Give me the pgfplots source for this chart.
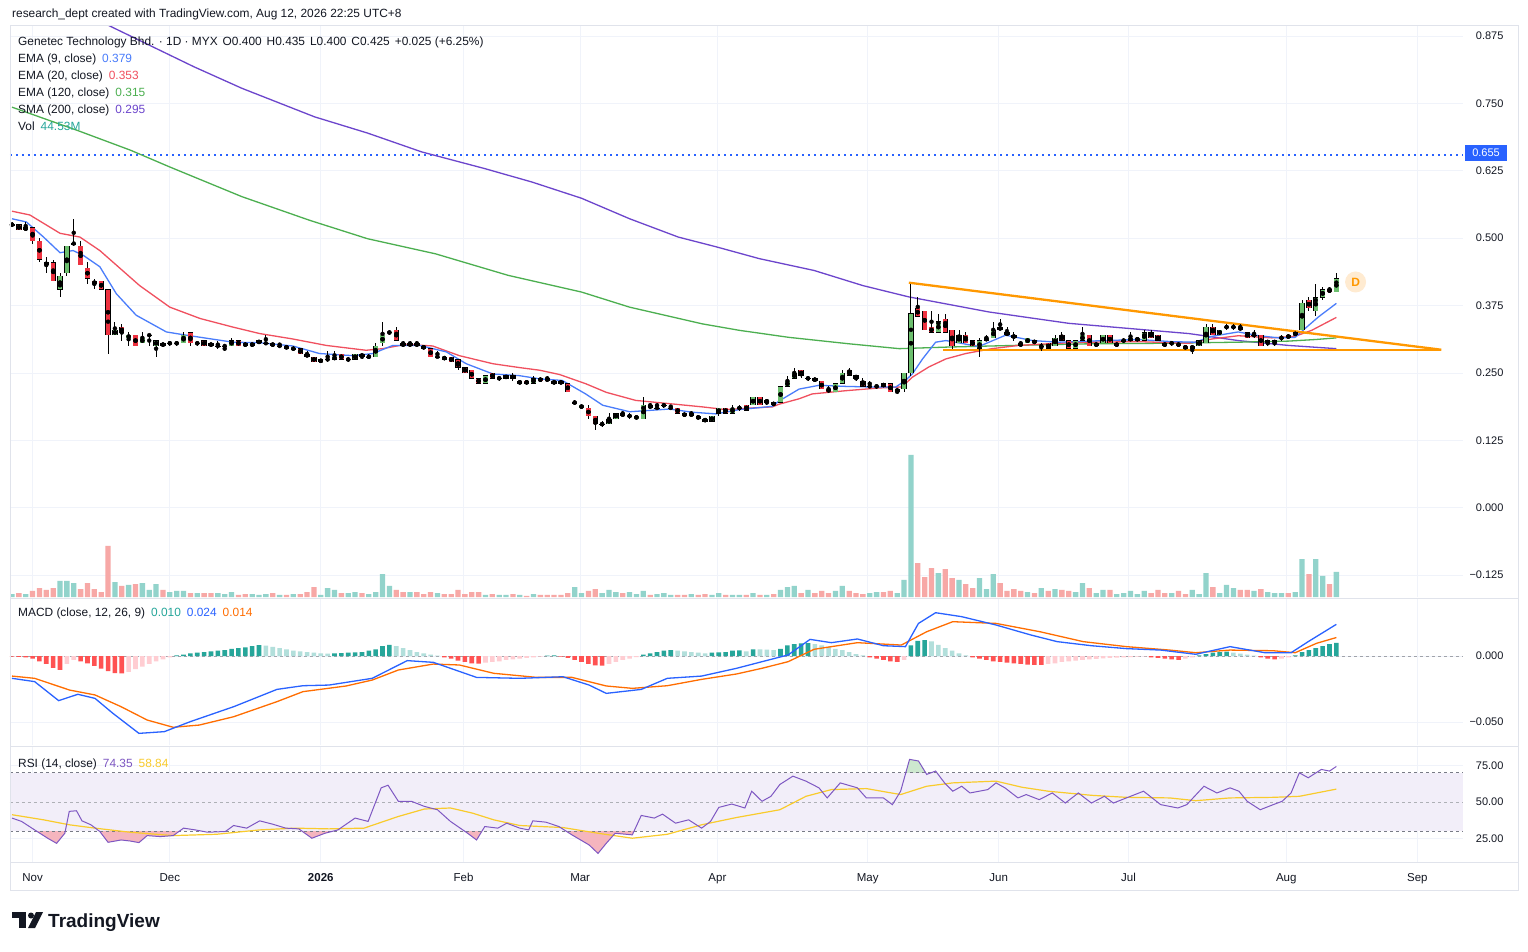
\documentclass[border=0pt]{standalone}
\usepackage{fontspec}
\setmainfont{Liberation Sans}
\usepackage{pgfplots}
\pgfplotsset{compat=1.18}
\usepackage{pgfplotstable}

\definecolor{tvtext}{HTML}{131722}
\definecolor{gridc}{HTML}{F0F3FA}
\definecolor{framec}{HTML}{E0E3EB}
\definecolor{cup}{HTML}{6CBF6E}
\definecolor{cdn}{HTML}{EE3240}
\definecolor{vup}{HTML}{92D3CB}
\definecolor{vdn}{HTML}{F7A8A6}
\definecolor{ema9}{HTML}{4A7DFB}
\definecolor{ema20}{HTML}{F0505F}
\definecolor{ema120}{HTML}{4CAF50}
\definecolor{sma200}{HTML}{6C45CC}
\definecolor{hblue}{HTML}{2962FF}
\definecolor{trend}{HTML}{FF9800}
\definecolor{dlab}{HTML}{FFEBD1}
\definecolor{macdb}{HTML}{2962FF}
\definecolor{macdo}{HTML}{FF6D00}
\definecolor{hA}{HTML}{26A69A}
\definecolor{hB}{HTML}{B2DFDB}
\definecolor{hC}{HTML}{FFCDD2}
\definecolor{hD}{HTML}{FF5252}
\definecolor{rsil}{HTML}{7E57C2}
\definecolor{rsim}{HTML}{F9CB2C}
\definecolor{rsibg}{HTML}{F2EEF9}
\definecolor{rsiob}{HTML}{F5B5BE}
\definecolor{rsiog}{HTML}{CDE8CF}
\definecolor{dashc}{HTML}{787B86}
\definecolor{volt}{HTML}{26A69A}

\pgfplotstableread{
i o h l c v
0 0.525 0.530 0.520 0.525 5.3
1 0.525 0.525 0.515 0.515 7.1
2 0.515 0.530 0.515 0.520 5.3
3 0.520 0.520 0.490 0.495 10.7
4 0.495 0.500 0.455 0.460 16.0
5 0.455 0.465 0.435 0.450 12.5
6 0.455 0.460 0.420 0.420 16.0
7 0.405 0.435 0.390 0.430 28.5
8 0.435 0.485 0.430 0.485 28.5
9 0.490 0.535 0.485 0.490 24.9
10 0.485 0.495 0.450 0.450 14.2
11 0.445 0.455 0.415 0.425 24.9
12 0.420 0.425 0.405 0.415 14.2
13 0.420 0.420 0.405 0.405 8.9
14 0.405 0.405 0.285 0.320 90.8
15 0.320 0.345 0.320 0.330 26.7
16 0.335 0.340 0.310 0.325 19.6
17 0.315 0.325 0.300 0.320 21.4
18 0.320 0.320 0.300 0.300 23.1
19 0.305 0.325 0.305 0.315 24.9
20 0.320 0.320 0.300 0.320 12.5
21 0.300 0.310 0.280 0.310 23.1
22 0.305 0.305 0.300 0.300 12.5
23 0.305 0.310 0.300 0.305 8.9
24 0.305 0.310 0.300 0.305 10.7
25 0.305 0.325 0.305 0.320 10.7
26 0.325 0.325 0.300 0.305 7.1
27 0.305 0.310 0.300 0.305 7.1
28 0.310 0.310 0.300 0.300 7.1
29 0.305 0.305 0.300 0.300 7.1
30 0.300 0.310 0.295 0.300 7.1
31 0.300 0.300 0.290 0.300 5.3
32 0.300 0.315 0.300 0.310 8.9
33 0.310 0.310 0.300 0.300 3.6
34 0.305 0.305 0.300 0.300 5.3
35 0.300 0.305 0.300 0.305 5.3
36 0.305 0.310 0.305 0.310 3.6
37 0.305 0.320 0.305 0.305 5.3
38 0.305 0.305 0.300 0.300 7.1
39 0.300 0.305 0.300 0.300 3.6
40 0.300 0.300 0.295 0.295 3.6
41 0.295 0.300 0.290 0.295 5.3
42 0.295 0.295 0.285 0.285 5.3
43 0.285 0.290 0.280 0.280 8.9
44 0.280 0.280 0.270 0.270 17.8
45 0.270 0.275 0.270 0.275 3.6
46 0.275 0.290 0.270 0.275 16.0
47 0.275 0.290 0.275 0.280 12.5
48 0.285 0.285 0.275 0.275 7.1
49 0.275 0.280 0.270 0.275 7.1
50 0.275 0.285 0.275 0.285 8.9
51 0.285 0.285 0.275 0.280 7.1
52 0.280 0.285 0.275 0.280 5.3
53 0.280 0.305 0.280 0.300 8.9
54 0.305 0.345 0.300 0.320 40.9
55 0.325 0.330 0.320 0.325 19.6
56 0.330 0.335 0.310 0.310 12.5
57 0.305 0.310 0.300 0.300 8.9
58 0.300 0.310 0.300 0.305 8.9
59 0.305 0.310 0.300 0.300 8.9
60 0.300 0.300 0.295 0.295 5.3
61 0.295 0.295 0.280 0.280 8.9
62 0.280 0.290 0.280 0.280 7.1
63 0.280 0.280 0.275 0.275 5.3
64 0.280 0.280 0.270 0.270 5.3
65 0.275 0.275 0.255 0.260 12.5
66 0.260 0.260 0.250 0.250 5.3
67 0.255 0.255 0.240 0.240 8.9
68 0.240 0.240 0.230 0.230 8.9
69 0.230 0.245 0.230 0.245 3.6
70 0.250 0.250 0.240 0.240 5.3
71 0.240 0.245 0.235 0.240 3.6
72 0.240 0.245 0.240 0.245 3.6
73 0.245 0.250 0.235 0.240 5.3
74 0.230 0.235 0.230 0.235 3.6
75 0.235 0.235 0.230 0.230 1.8
76 0.230 0.245 0.230 0.240 5.3
77 0.240 0.240 0.235 0.235 3.6
78 0.240 0.245 0.235 0.235 3.6
79 0.235 0.235 0.230 0.230 3.6
80 0.235 0.235 0.230 0.230 3.6
81 0.230 0.230 0.215 0.215 7.1
82 0.195 0.200 0.190 0.195 17.8
83 0.185 0.190 0.185 0.190 7.1
84 0.185 0.190 0.165 0.170 10.7
85 0.170 0.170 0.145 0.155 14.2
86 0.155 0.160 0.150 0.155 7.1
87 0.155 0.175 0.155 0.165 12.5
88 0.165 0.175 0.165 0.175 8.9
89 0.175 0.180 0.170 0.170 7.1
90 0.170 0.175 0.165 0.170 8.9
91 0.165 0.170 0.165 0.170 5.3
92 0.165 0.205 0.165 0.190 10.7
93 0.190 0.195 0.185 0.185 3.6
94 0.185 0.195 0.185 0.185 5.3
95 0.190 0.195 0.185 0.190 7.1
96 0.185 0.190 0.185 0.185 3.6
97 0.185 0.185 0.175 0.175 3.6
98 0.175 0.175 0.170 0.170 3.6
99 0.170 0.180 0.170 0.175 5.3
100 0.170 0.170 0.165 0.165 3.6
101 0.165 0.165 0.160 0.160 5.3
102 0.160 0.170 0.160 0.170 3.6
103 0.175 0.185 0.170 0.185 7.1
104 0.185 0.185 0.175 0.175 3.6
105 0.175 0.190 0.175 0.185 3.6
106 0.185 0.190 0.180 0.185 3.6
107 0.190 0.190 0.180 0.180 3.6
108 0.190 0.205 0.190 0.205 7.1
109 0.205 0.205 0.190 0.190 3.6
110 0.195 0.200 0.190 0.200 3.6
111 0.195 0.195 0.190 0.190 5.3
112 0.195 0.225 0.195 0.225 12.5
113 0.225 0.245 0.225 0.235 17.8
114 0.240 0.260 0.240 0.250 19.6
115 0.255 0.255 0.240 0.245 7.1
116 0.240 0.245 0.235 0.240 12.5
117 0.240 0.240 0.235 0.235 7.1
118 0.235 0.235 0.220 0.220 10.7
119 0.220 0.225 0.215 0.215 7.1
120 0.215 0.230 0.215 0.230 10.7
121 0.230 0.255 0.230 0.250 19.6
122 0.255 0.260 0.245 0.245 10.7
123 0.245 0.245 0.235 0.240 7.1
124 0.235 0.240 0.225 0.225 5.3
125 0.225 0.235 0.225 0.225 7.1
126 0.225 0.230 0.220 0.225 8.9
127 0.230 0.230 0.225 0.225 8.9
128 0.230 0.230 0.215 0.215 10.7
129 0.215 0.220 0.210 0.220 7.1
130 0.220 0.250 0.215 0.250 30.3
131 0.250 0.415 0.245 0.360 252.8
132 0.370 0.390 0.355 0.355 60.5
133 0.365 0.365 0.330 0.330 35.6
134 0.335 0.365 0.325 0.325 51.6
135 0.325 0.360 0.325 0.345 42.7
136 0.350 0.360 0.325 0.325 49.8
137 0.330 0.330 0.295 0.300 33.8
138 0.305 0.330 0.305 0.320 30.3
139 0.320 0.325 0.305 0.305 23.1
140 0.310 0.310 0.300 0.300 16.0
141 0.295 0.315 0.280 0.310 33.8
142 0.310 0.320 0.310 0.315 14.2
143 0.315 0.345 0.315 0.330 40.9
144 0.335 0.350 0.330 0.330 24.9
145 0.325 0.335 0.320 0.320 10.7
146 0.320 0.325 0.310 0.315 14.2
147 0.305 0.310 0.300 0.300 10.7
148 0.305 0.315 0.305 0.315 8.9
149 0.310 0.310 0.305 0.305 7.1
150 0.300 0.305 0.290 0.300 16.0
151 0.305 0.305 0.295 0.295 10.7
152 0.300 0.320 0.300 0.315 14.2
153 0.320 0.325 0.310 0.310 12.5
154 0.310 0.310 0.295 0.295 10.7
155 0.295 0.310 0.295 0.310 8.9
156 0.310 0.335 0.310 0.320 24.9
157 0.320 0.320 0.300 0.300 16.0
158 0.300 0.305 0.300 0.305 7.1
159 0.305 0.320 0.305 0.320 12.5
160 0.320 0.320 0.305 0.305 12.5
161 0.300 0.305 0.300 0.305 5.3
162 0.310 0.315 0.305 0.310 7.1
163 0.310 0.325 0.310 0.315 10.7
164 0.310 0.315 0.310 0.315 5.3
165 0.310 0.330 0.310 0.325 10.7
166 0.325 0.330 0.315 0.315 7.1
167 0.320 0.320 0.310 0.310 12.5
168 0.305 0.305 0.300 0.300 7.1
169 0.305 0.310 0.300 0.305 7.1
170 0.305 0.305 0.300 0.300 10.7
171 0.300 0.300 0.295 0.295 5.3
172 0.295 0.300 0.285 0.300 12.5
173 0.300 0.310 0.300 0.310 5.3
174 0.305 0.340 0.305 0.335 42.7
175 0.335 0.340 0.320 0.320 17.8
176 0.320 0.330 0.320 0.330 7.1
177 0.335 0.340 0.330 0.335 21.4
178 0.335 0.340 0.330 0.335 16.0
179 0.335 0.340 0.330 0.330 12.5
180 0.325 0.325 0.315 0.315 12.5
181 0.320 0.330 0.315 0.320 10.7
182 0.320 0.320 0.300 0.300 14.2
183 0.305 0.310 0.300 0.310 8.9
184 0.305 0.310 0.300 0.310 7.1
185 0.315 0.320 0.310 0.315 7.1
186 0.320 0.320 0.315 0.315 7.1
187 0.320 0.325 0.320 0.325 8.9
188 0.330 0.385 0.330 0.380 67.6
189 0.385 0.390 0.365 0.370 40.9
190 0.365 0.415 0.355 0.390 67.6
191 0.390 0.410 0.385 0.405 37.4
192 0.405 0.410 0.400 0.400 23.1
193 0.400 0.435 0.400 0.425 44.53
}\candles

\pgfplotstableread{
i p
0 0.536
2.1 0.530
4.6 0.502
7 0.473
8.9 0.477
10.4 0.468
12.8 0.447
15.2 0.397
18.1 0.357
22.5 0.326
25.4 0.320
32.2 0.307
36.1 0.306
40.9 0.300
44.8 0.286
49.7 0.282
52.6 0.286
55.5 0.301
59.4 0.301
63.3 0.289
66.2 0.267
70.1 0.248
73.9 0.245
76.9 0.239
80.2 0.236
83.6 0.211
86.1 0.190
90 0.178
92.4 0.180
95.8 0.183
99.2 0.177
102.6 0.174
106 0.182
110.8 0.188
111.8 0.198
114.7 0.220
117.6 0.227
121.5 0.225
124.9 0.224
128.8 0.224
130.2 0.236
131.2 0.248
132.7 0.276
134.6 0.307
136.1 0.310
140.9 0.299
144.8 0.320
148.7 0.310
152.5 0.307
156.9 0.309
164.2 0.312
169 0.308
172.4 0.307
174.9 0.318
178.7 0.326
181.7 0.319
184.6 0.315
187 0.316
188.4 0.332
190.4 0.354
193 0.379
}\emanine

\pgfplotstableread{
i p
0 0.550
2.6 0.543
7 0.509
9.9 0.502
12.8 0.477
18.6 0.412
23 0.372
27.4 0.351
32.2 0.335
36.1 0.323
40.9 0.313
45.8 0.301
51.6 0.292
54 0.295
57.4 0.303
61.3 0.300
65.2 0.282
70.1 0.267
73.9 0.260
76.9 0.255
79.8 0.247
83.6 0.230
86.6 0.214
90.9 0.199
95.8 0.193
100.6 0.187
104 0.182
107.9 0.185
110.8 0.187
111.8 0.192
114.7 0.202
116.6 0.211
121.5 0.217
126.3 0.222
129.7 0.224
131.2 0.242
133.6 0.261
136.1 0.276
139 0.286
142.8 0.295
146.7 0.301
152.5 0.305
156.9 0.307
164.2 0.308
171.5 0.305
174.9 0.313
178.7 0.319
183.6 0.315
187 0.318
189.4 0.329
193 0.353
}\ematwenty

\pgfplotstableread{
i p
0 0.743
9.5 0.700
17.3 0.663
23 0.632
33.5 0.577
43.4 0.533
51.8 0.499
61.7 0.471
72.3 0.431
83 0.400
90 0.372
100.6 0.341
106 0.329
113.2 0.316
122 0.304
129.3 0.295
136.5 0.298
146 0.301
156.9 0.304
168 0.305
178.7 0.307
186 0.309
190 0.312
193 0.315
}\emaonetwenty

\pgfplotstableread{
i p
0 0.985
5 0.955
10 0.922
14.5 0.892
26.5 0.818
33.5 0.778
44.1 0.725
51.8 0.695
59.7 0.660
68.9 0.629
75.8 0.604
83 0.574
90 0.536
97.1 0.502
102.6 0.484
108.9 0.462
116.9 0.440
124 0.412
130.7 0.391
142.4 0.363
154 0.342
171.5 0.323
178.7 0.310
186 0.301
193 0.295
}\smatwohundred

\pgfplotstableread{
i m
0 -0.0169
3.3 -0.0194
6.8 -0.0338
9.6 -0.0290
12.1 -0.0321
14.7 -0.0434
18.5 -0.0586
22.2 -0.0573
26.0 -0.0497
32.3 -0.0384
38.6 -0.0253
42.4 -0.0225
46.2 -0.0220
52.5 -0.0169
57.6 -0.0035
61.4 -0.0048
67.7 -0.0162
74 -0.0169
80.3 -0.0157
84.1 -0.0220
86.6 -0.0283
91.7 -0.0253
95.5 -0.0169
100.5 -0.0152
105.6 -0.0093
109.3 -0.0043
113.1 0.0008
116.3 0.0126
119.4 0.0101
123.2 0.0129
127 0.0078
130.2 0.0071
132.1 0.0247
134.6 0.0328
138.4 0.0298
143.4 0.0235
148.5 0.0159
152.3 0.0109
157.3 0.0078
162.4 0.0056
167.4 0.0045
172.5 0.0013
177.5 0.0071
182.6 0.0025
186.4 0.0025
188.9 0.0109
193 0.0240
}\macdline

\pgfplotstableread{
i m
0 -0.0152
3.3 -0.0169
8.4 -0.0258
12.1 -0.0295
15.9 -0.0384
19.7 -0.0485
23.5 -0.0540
27.3 -0.0523
32.3 -0.0460
38.6 -0.0346
42.4 -0.0270
48.7 -0.0227
52.5 -0.0182
56.3 -0.0106
61.4 -0.0061
65.2 -0.0068
70.2 -0.0131
76.5 -0.0162
81.6 -0.0162
86.6 -0.0227
90.4 -0.0245
95.5 -0.0225
100.5 -0.0177
105.6 -0.0136
109.3 -0.0093
113.1 -0.0043
116.9 0.0051
123.2 0.0101
129.6 0.0083
133.3 0.0184
137.1 0.0260
143.4 0.0247
149.8 0.0184
156.1 0.0109
162.4 0.0071
168.7 0.0045
172.5 0.0025
177.5 0.0045
183.8 0.0040
187 0.0025
190.1 0.0096
193 0.0140
}\signalline

\pgfplotstableread{
i m k
0 -0.0005 3
1 -0.0007 3
2 -0.0010 3
3 -0.0020 3
4 -0.0040 3
5 -0.0060 3
6 -0.0090 3
7 -0.0105 3
8 -0.0060 2
9 -0.0030 2
10 -0.0040 3
11 -0.0055 3
12 -0.0075 3
13 -0.0095 3
14 -0.0115 3
15 -0.0130 3
16 -0.0131 3
17 -0.0120 2
18 -0.0100 2
19 -0.0080 2
20 -0.0060 2
21 -0.0040 2
22 -0.0025 2
23 -0.0010 2
24 0.0005 0
25 0.0010 0
26 0.0020 0
27 0.0025 0
28 0.0030 0
29 0.0035 0
30 0.0040 0
31 0.0045 0
32 0.0055 0
33 0.0060 0
34 0.0065 0
35 0.0075 0
36 0.0083 0
37 0.0078 1
38 0.0070 1
39 0.0060 1
40 0.0050 1
41 0.0040 1
42 0.0035 1
43 0.0030 1
44 0.0025 1
45 0.0020 1
46 0.0018 1
47 0.0020 0
48 0.0022 0
49 0.0025 0
50 0.0028 0
51 0.0030 0
52 0.0040 0
53 0.0050 0
54 0.0075 0
55 0.0085 0
56 0.0075 1
57 0.0060 1
58 0.0045 1
59 0.0030 1
60 0.0020 1
61 0.0010 1
62 0.0003 1
63 -0.0010 3
64 -0.0020 3
65 -0.0035 3
66 -0.0045 3
67 -0.0055 3
68 -0.0057 3
69 -0.0050 2
70 -0.0045 2
71 -0.0040 2
72 -0.0030 2
73 -0.0025 2
74 -0.0020 2
75 -0.0015 2
76 -0.0010 2
77 -0.0005 2
78 0.0003 0
79 0.0005 0
80 -0.0005 3
81 -0.0015 3
82 -0.0030 3
83 -0.0045 3
84 -0.0060 3
85 -0.0070 3
86 -0.0073 3
87 -0.0060 2
88 -0.0045 2
89 -0.0030 2
90 -0.0020 2
91 -0.0008 2
92 0.0010 0
93 0.0020 0
94 0.0030 0
95 0.0040 0
96 0.0045 0
97 0.0040 1
98 0.0035 1
99 0.0030 1
100 0.0025 1
101 0.0020 1
102 0.0025 0
103 0.0028 0
104 0.0030 0
105 0.0040 0
106 0.0042 0
107 0.0035 1
108 0.0050 0
109 0.0050 1
110 0.0048 1
111 0.0045 1
112 0.0055 0
113 0.0080 0
114 0.0090 0
115 0.0095 0
116 0.0097 0
117 0.0090 1
118 0.0080 1
119 0.0070 1
120 0.0055 1
121 0.0045 1
122 0.0030 1
123 0.0015 1
124 0.0005 1
125 -0.0010 3
126 -0.0020 3
127 -0.0030 3
128 -0.0040 3
129 -0.0045 3
130 -0.0030 2
131 0.0080 0
132 0.0115 0
133 0.0121 0
134 0.0110 1
135 0.0085 1
136 0.0060 1
137 0.0040 1
138 0.0020 1
139 0.0005 1
140 -0.0010 3
141 -0.0020 3
142 -0.0030 3
143 -0.0040 3
144 -0.0045 3
145 -0.0050 3
146 -0.0055 3
147 -0.0060 3
148 -0.0065 3
149 -0.0067 3
150 -0.0068 3
151 -0.0060 2
152 -0.0055 2
153 -0.0045 2
154 -0.0040 2
155 -0.0035 2
156 -0.0030 2
157 -0.0025 2
158 -0.0022 2
159 -0.0018 2
160 -0.0015 2
161 -0.0012 2
162 -0.0010 2
163 -0.0008 2
164 -0.0005 2
165 -0.0003 2
166 -0.0010 3
167 -0.0015 3
168 -0.0020 3
169 -0.0025 3
170 -0.0030 3
171 -0.0020 2
172 -0.0010 2
173 0.0005 0
174 0.0015 0
175 0.0025 0
176 0.0030 0
177 0.0033 0
178 0.0025 1
179 0.0018 1
180 0.0010 1
181 0.0003 1
182 -0.0010 3
183 -0.0020 3
184 -0.0025 3
185 -0.0020 2
186 -0.0010 2
187 0.0005 0
188 0.0030 0
189 0.0045 0
190 0.0060 0
191 0.0075 0
192 0.0090 0
193 0.0100 0
}\hist

\pgfplotstableread{
i r
0 39.0
1.4 36.7
3.3 30.9
5.2 25.2
6.5 21.7
7.7 28.6
8.35 43.6
9.4 44.0
10.2 37.1
11.5 34.4
12.8 29.8
14.0 22.4
15.9 24.0
17.2 23.3
18.5 22.2
19.7 27.0
21.6 26.3
23.5 27.0
25.0 32.1
26.7 30.9
28.5 29.3
31.1 29.8
32.3 33.9
34.2 32.1
36.1 37.1
38.0 34.8
39.9 32.1
41.8 31.6
43.7 25.2
45.6 28.6
47.5 30.9
50.0 39.0
51.9 36.7
53.8 59.7
54.8 61.5
56.3 50.5
58.2 50.5
60.1 47.0
62.0 44.7
63.9 36.7
66.4 28.6
67.7 24.0
68.9 33.2
70.8 32.1
72.1 35.5
74.0 32.1
75.3 30.9
75.9 37.1
77.8 36.2
79.7 33.2
81.6 27.5
84.1 20.6
85.4 14.8
86.6 21.7
87.9 28.6
90.4 27.5
91.7 40.8
93.6 39.0
94.8 41.7
96.7 35.5
98.6 37.8
100.5 32.1
101.8 36.7
103.0 46.3
104.9 48.6
106.8 45.9
107.8 57.4
109.3 50.5
110.6 53.9
111.9 62.0
113.8 67.7
115.7 64.3
117.6 59.7
118.8 52.8
120.7 63.1
123.2 59.7
124.5 52.8
127.0 52.8
128.3 48.2
129.5 57.4
130.8 79.2
132.1 78.1
133.3 68.9
134.6 71.2
135.9 63.1
137.1 57.4
138.4 60.8
139.6 56.2
142.2 58.5
143.4 63.1
144.7 59.7
146.6 52.8
147.8 55.1
149.7 51.6
151.6 56.2
153.5 49.3
155.4 56.2
157.3 49.3
159.2 53.9
160.5 49.3
162.4 52.8
164.9 57.4
167.4 48.2
169.9 45.9
171.2 48.2
173.7 60.8
175.6 56.2
177.5 59.7
178.8 57.4
180.0 50.5
181.9 44.7
183.8 48.2
185.1 50.5
186.4 56.2
187.6 70.0
188.9 66.6
190.8 72.3
192.0 71.2
193 74.35
}\rsiline

\pgfplotstableread{
i r
0 41.3
4.6 37.8
8.35 34.4
12.1 32.1
17.2 29.3
23.5 27.0
29.8 27.9
36.1 30.9
41.2 32.1
46.2 31.6
51.3 32.1
56.3 40.1
60.1 45.2
63.9 45.9
67.1 42.4
70.2 37.8
74.0 33.9
80.3 32.5
85.4 28.6
90.4 25.2
95.5 27.9
100.5 34.4
105.6 39.4
111.9 44.7
115.7 53.9
119.4 58.5
124.5 59.2
129.5 55.1
133.3 60.8
137.1 63.1
143.4 64.3
147.2 60.1
151.0 57.4
157.3 54.6
162.4 53.2
168.7 52.8
172.5 50.9
177.5 52.8
183.8 53.2
187.6 53.9
193 58.84
}\rsima

\pgfplotsset{
  tvax/.style={
    scale only axis, width=1453pt, xmin=-0.29, xmax=211.45,
    axis line style={draw=none}, major tick length=0pt,
    grid=major, major grid style={draw=gridc, line width=0.8pt},
    xtick={3,23,45,65.8,82.8,102.8,124.7,143.8,162.7,185.7,204.8},
    xticklabels={},
    scaled ticks=false,
    yticklabel pos=right,
    yticklabel style={anchor=east, xshift=44pt, font=\fontsize{11}{12}\selectfont, text=tvtext},
    unbounded coords=discard,
  },
}
\tikzset{lg/.style={anchor=base west, inner sep=0pt, font=\fontsize{11.9}{13}\selectfont, text=tvtext}}

\begin{document}
\begin{tikzpicture}[x=1pt,y=1pt]
\fill[white] (0,0) rectangle (1528,-951);
\path[use as bounding box] (0,0) rectangle (1528,-951);

% ---------- main price pane ----------
\begin{axis}[tvax, at={(10pt,-25pt)}, anchor=north west, height=572pt,
  ymin=-0.1657, ymax=0.8954,
  ytick={-0.125,0,0.125,0.25,0.375,0.5,0.625,0.75,0.875},
  yticklabels={−0.125,0.000,0.125,0.250,0.375,0.500,0.625,0.750,0.875}]
\addplot[hblue, line width=2pt, dash pattern=on 2pt off 4pt] coordinates {(-0.29,0.655) (211.45,0.655)};
\addplot[sma200, line width=1.3pt] table[x=i,y=p]{\smatwohundred};
\addplot[ema120, line width=1.3pt] table[x=i,y=p]{\emaonetwenty};
\addplot[ema20, line width=1.3pt] table[x=i,y=p]{\ematwenty};
\addplot[ema9, line width=1.3pt] table[x=i,y=p]{\emanine};
\addplot[trend, line width=2.3pt] coordinates {(130.7,0.4174) (208.3,0.293)};
\addplot[trend, line width=2.3pt] coordinates {(135.7,0.293) (208.3,0.293)};
% wicks
\addplot[only marks, mark=none, forget plot, error bars/.cd, y dir=both, y explicit, error mark=none,
  error bar style={draw=black, line width=0.9pt}]
  table[x=i, y expr={(\thisrow{h}+\thisrow{l})/2}, y error expr={(\thisrow{h}-\thisrow{l})/2}]{\candles};
% body outlines
\addplot[only marks, mark=none, forget plot, error bars/.cd, y dir=both, y explicit, error mark=none,
  error bar style={draw=black, line width=5.3pt}]
  table[x=i, y expr={(\thisrow{o}+\thisrow{c})/2}, y error expr={abs(\thisrow{c}-\thisrow{o})/2+0.0004}]{\candles};
% up bodies
\addplot[only marks, mark=none, forget plot, restrict expr to domain={\thisrow{c}-\thisrow{o}}{0.0001:1},
  error bars/.cd, y dir=both, y explicit, error mark=none,
  error bar style={draw=cup, line width=4.3pt}]
  table[x=i, y expr={(\thisrow{o}+\thisrow{c})/2}, y error expr={abs(\thisrow{c}-\thisrow{o})/2-0.0004}]{\candles};
% down bodies
\addplot[only marks, mark=none, forget plot, restrict expr to domain={\thisrow{c}-\thisrow{o}}{-1:-0.0001},
  error bars/.cd, y dir=both, y explicit, error mark=none,
  error bar style={draw=cdn, line width=4.3pt}]
  table[x=i, y expr={(\thisrow{o}+\thisrow{c})/2}, y error expr={abs(\thisrow{c}-\thisrow{o})/2-0.0004}]{\candles};
\node[circle, fill=dlab, minimum size=21pt, inner sep=0pt, text=trend, font=\bfseries\fontsize{12}{12}\selectfont] at (axis cs:195.8,0.4187) {D};
\end{axis}

% ---------- volume overlay ----------
\begin{axis}[scale only axis, width=1453pt, height=572pt, at={(10pt,-25pt)}, anchor=north west,
  xmin=-0.29, xmax=211.45, ymin=0, ymax=1018, hide axis]
\addplot[ybar, bar width=5.3pt, bar shift=0pt, fill=vup, draw=none,
  restrict expr to domain={\thisrow{c}-\thisrow{o}}{-0.0001:1}] table[x=i,y=v]{\candles};
\addplot[ybar, bar width=5.3pt, bar shift=0pt, fill=vdn, draw=none,
  restrict expr to domain={\thisrow{c}-\thisrow{o}}{-1:-0.0001}] table[x=i,y=v]{\candles};
\end{axis}

% ---------- MACD pane ----------
\begin{axis}[tvax, at={(10pt,-599pt)}, anchor=north west, height=146pt,
  ymin=-0.06742, ymax=0.04318, ytick={-0.05,0}, yticklabels={−0.050,0.000}]
\addplot[dashc!70, line width=0.8pt, dash pattern=on 3pt off 3pt] coordinates {(-0.29,0) (211.45,0)};
\addplot[ybar, bar width=4.6pt, bar shift=0pt, fill=hA, draw=none, restrict expr to domain={\thisrow{k}}{-0.5:0.5}] table[x=i,y=m]{\hist};
\addplot[ybar, bar width=4.6pt, bar shift=0pt, fill=hB, draw=none, restrict expr to domain={\thisrow{k}}{0.5:1.5}] table[x=i,y=m]{\hist};
\addplot[ybar, bar width=4.6pt, bar shift=0pt, fill=hC, draw=none, restrict expr to domain={\thisrow{k}}{1.5:2.5}] table[x=i,y=m]{\hist};
\addplot[ybar, bar width=4.6pt, bar shift=0pt, fill=hD, draw=none, restrict expr to domain={\thisrow{k}}{2.5:3.5}] table[x=i,y=m]{\hist};
\addplot[macdo, line width=1.3pt] table[x=i,y=m]{\signalline};
\addplot[macdb, line width=1.3pt] table[x=i,y=m]{\macdline};
\end{axis}

% ---------- RSI pane ----------
\begin{axis}[tvax, at={(10pt,-747pt)}, anchor=north west, height=115pt,
  ymin=8.9, ymax=87.67, ytick={25,50,75}, yticklabels={25.00,50.00,75.00},
  xticklabels={Nov,Dec,\textbf{2026},Feb,Mar,Apr,May,Jun,Jul,Aug,Sep},
  xticklabel style={font=\fontsize{11.5}{12}\selectfont, text=tvtext, yshift=-8pt}]
\addplot[fill=rsibg, draw=none, forget plot] coordinates {(-0.29,30) (211.45,30) (211.45,70) (-0.29,70)};
\addplot[fill=rsiob, draw=none, forget plot] coordinates {(3.6,30) (5.2,25.2) (6.5,21.7) (7.7,28.6) (7.76,30)};
\addplot[fill=rsiob, draw=none, forget plot] coordinates {(12.74,30) (12.8,29.8) (14.0,22.4) (15.9,24.0) (17.2,23.3) (18.5,22.2) (19.7,27.0) (21.6,26.3) (23.5,27.0) (24.38,30)};
\addplot[fill=rsiob, draw=none, forget plot] coordinates {(42.3,30) (43.7,25.2) (45.6,28.6) (46.8,30)};
\addplot[fill=rsiob, draw=none, forget plot] coordinates {(65.97,30) (66.4,28.6) (67.7,24.0) (68.48,30)};
\addplot[fill=rsiob, draw=none, forget plot] coordinates {(80.77,30) (81.6,27.5) (84.1,20.6) (85.4,14.8) (86.6,21.7) (87.9,28.6) (90.4,27.5) (90.64,30)};
\addplot[fill=rsiog, draw=none, forget plot] coordinates {(130.25,70) (130.8,79.2) (132.1,78.1) (133.16,70)};
\addplot[dashc, line width=0.9pt, dash pattern=on 3pt off 3pt] coordinates {(-0.29,70) (211.45,70)};
\addplot[dashc!60, line width=0.9pt, dash pattern=on 3pt off 3pt] coordinates {(-0.29,50) (211.45,50)};
\addplot[dashc, line width=0.9pt, dash pattern=on 3pt off 3pt] coordinates {(-0.29,30) (211.45,30)};
\addplot[rsim, line width=1.2pt] table[x=i,y=r]{\rsima};
\addplot[rsil, line width=1pt] table[x=i,y=r]{\rsiline};
\end{axis}

% ---------- frame ----------
\draw[framec, line width=1pt] (10,-25) rectangle (1518,-890);
\draw[framec, line width=1pt] (10,-598) -- (1518,-598);
\draw[framec, line width=1pt] (10,-746) -- (1518,-746);
\draw[framec, line width=1pt] (10,-862) -- (1518,-862);

% ---------- price label box ----------
\node[fill=hblue, text=white, font=\fontsize{11}{12}\selectfont, minimum width=42pt, minimum height=16pt, inner sep=0pt] at (1486,-153) {0.655};

% ---------- texts ----------
\node[lg, font=\fontsize{11.9}{13}\selectfont] at (12,-17) {research\_dept created with TradingView.com, Aug 12, 2026 22:25 UTC+8};
\node[lg] at (18,-45) {Genetec Technology Bhd. · 1D · MYX\hspace{5pt}O0.400\hspace{5pt}H0.435\hspace{5pt}L0.400\hspace{5pt}C0.425\hspace{5pt}+0.025 (+6.25\%)};
\node[lg] at (18,-62) {EMA (9, close)\hspace{6pt}\textcolor{ema9}{0.379}};
\node[lg] at (18,-79) {EMA (20, close)\hspace{6pt}\textcolor{ema20}{0.353}};
\node[lg] at (18,-96) {EMA (120, close)\hspace{6pt}\textcolor{ema120}{0.315}};
\node[lg] at (18,-113) {SMA (200, close)\hspace{6pt}\textcolor{sma200}{0.295}};
\node[lg] at (18,-130) {Vol\hspace{6pt}\textcolor{volt}{44.53M}};
\node[lg] at (18,-616) {MACD (close, 12, 26, 9)\hspace{6pt}\textcolor{hA}{0.010}\hspace{6pt}\textcolor{macdb}{0.024}\hspace{6pt}\textcolor{macdo}{0.014}};
\node[lg] at (18,-767) {RSI (14, close)\hspace{6pt}\textcolor{rsil}{74.35}\hspace{6pt}\textcolor{rsim}{58.84}};

% ---------- logo ----------
\fill[tvtext] (12,-912) rectangle (26,-918);
\fill[tvtext] (19,-912) rectangle (26,-928);
\fill[tvtext] (31,-915.5) circle (3);
\fill[tvtext] (28,-928) -- (36,-912) -- (43,-912) -- (35,-928) -- cycle;
\node[anchor=base west, inner sep=0pt, font=\bfseries\fontsize{19}{20}\selectfont, text=tvtext] at (48,-927) {TradingView};
\end{tikzpicture}
\end{document}
